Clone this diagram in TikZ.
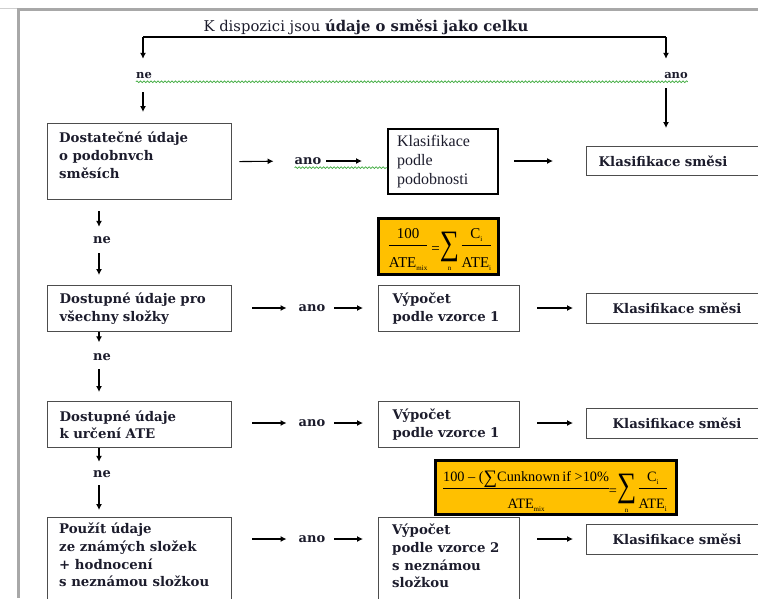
\documentclass[tikz,border=0pt]{standalone}
\usepackage{fontspec}
\setmainfont{Liberation Serif}
\newfontfamily\bodyserif{DejaVu Serif}
\usetikzlibrary{arrows.meta,decorations.pathmorphing}

\definecolor{ink}{HTML}{1C1C2C}
\definecolor{edge}{HTML}{4D4D4D}
\definecolor{framegray}{HTML}{A8A8A8}
\definecolor{spell}{HTML}{3DAA3D}
\definecolor{formulafill}{HTML}{FFC000}

\newcommand\cbfont{\bodyserif\fontsize{13.3}{17.6}\selectfont\bfseries}
\newcommand\headfont{\bodyserif\fontsize{14.8}{17}\selectfont}
\newcommand\trfont{\fontsize{16}{19.2}\selectfont}
\newcommand\lblfont{\bodyserif\fontsize{13}{16}\selectfont\bfseries}
\newcommand\toplblfont{\bodyserif\fontsize{11.5}{14}\selectfont\bfseries}
\newcommand\eqfont{\fontsize{15}{18}\selectfont}
\newcommand\eqsmallfont{\fontsize{14.3}{18}\selectfont}
% small index after a name
\newcommand\idx[1]{\raisebox{-3pt}{\fontsize{7}{7}\selectfont #1}}
% built-up fraction: numerator over a rule over denominator
\newcommand\frc[3]{\begin{tabular}{@{}c@{}}#2\\[1pt]\hline\rule{0pt}{#1}#3\end{tabular}}
% large summation sign with its index below
\newcommand\bigsum{\raisebox{-5pt}{\begin{tabular}{@{}c@{}}\scalebox{0.9}[1.14]{\fontsize{30}{30}\selectfont ∑}\\[-4pt]{\fontsize{7}{7}\selectfont n}\end{tabular}}}

\tikzset{
  box/.style={draw=edge, line width=1.3pt, anchor=north west, inner sep=0pt,
    text=ink, font=\cbfont, align=left},
  heavybox/.style={draw=black, line width=2.2pt, anchor=north west, inner sep=0pt,
    text=ink, font=\trfont, align=left},
  formula/.style={draw=black, line width=3pt, fill=formulafill, inner sep=0pt},
  eq/.style={text=black, inner sep=0pt, anchor=base},
  txt/.style={text=ink, font=\cbfont, align=left, anchor=north west, inner sep=0pt},
  lbl/.style={text=ink, font=\lblfont, inner sep=0pt, text height=7pt, text depth=0pt},
  toplbl/.style={lbl, font=\toplblfont},
  arr/.style={-{Latex[length=6pt,width=6pt]}, line width=1.1pt, draw=black},
  plain/.style={line width=1.1pt, draw=black},
  wavy/.style={draw=spell, line width=0.7pt, decorate,
    decoration={snake, amplitude=0.9pt, segment length=3.5pt}},
}

\begin{document}
\begin{tikzpicture}[x=1pt,y=-1pt]
\useasboundingbox (0,0) rectangle (758,598);
\clip (0,0) rectangle (758,598);

% page frame
\draw[framegray!55, line width=1pt] (0,8.5) -- (18,8.5);
\draw[framegray, line width=2.5pt] (17,9.3) -- (758,9.3);
\draw[framegray, line width=2.5pt] (18.5,9) -- (18.5,598);

% heading and first branch
\node[text=ink, font=\headfont, inner sep=0pt, anchor=base] (title) at (366,31)
  {K dispozici jsou \textbf{údaje o směsi jako celku}};
\coordinate (tl) at (143,37);
\coordinate (tr) at (666,37);
\node[toplbl] (ne0) at (144,75) {ne};
\node[toplbl] (ano0) at (676,75) {ano};
\draw[plain] (tl) -- (tr);
\draw[arr, shorten >=12.5pt] (tl) -- (tl |- ne0.north);
\draw[arr, shorten >=12.5pt] (tr) -- (tr |- ano0.north);
\draw[wavy] ([yshift=-3pt]ne0.south west) -- ([yshift=-3pt]ano0.south east);

% left column: decision boxes
\node[box, minimum width=184pt, minimum height=76pt] (b1) at (47,123) {};
\node[txt] (t1) at ([shift={(12,9)}]b1.north west) {Dostatečné údaje\\o podobnvch\\směsích};
\node[box, minimum width=184pt, minimum height=46pt, text width=160pt, inner xsep=12pt]
  (b2) at (47,285) {Dostupné údaje pro\\všechny složky};
\node[box, minimum width=184pt, minimum height=46pt, text width=160pt, inner xsep=12pt]
  (b3) at (47,401) {Dostupné údaje\\k určení ATE};
\node[box, minimum width=184pt, minimum height=120pt] (b4) at (47,517) {};
\node[txt] (t4) at ([shift={(12,6)}]b4.north west)
  {Použít údaje\\ze známých složek\\+ hodnocení\\s neznámou složkou};

% middle column
\node[heavybox, minimum width=110pt, minimum height=65pt, text width=92pt, inner xsep=9pt]
  (kp) at (387,128) {Klasifikace\\podle\\podobnosti};
\node[box, minimum width=141pt, minimum height=46pt, text width=113pt, inner xsep=14pt]
  (v1) at (378,285) {Výpočet\\podle vzorce 1};
\node[box, minimum width=141pt, minimum height=46pt, text width=113pt, inner xsep=14pt]
  (v2) at (378,401) {Výpočet\\podle vzorce 1};
\node[box, minimum width=141pt, minimum height=120pt] (v3) at (378,517) {};
\node[txt] (t5) at ([shift={(14,7)}]v3.north west)
  {Výpočet\\podle vzorce 2\\s neznámou\\složkou};

% right column: results
\node[box, minimum width=220pt, minimum height=29pt, text width=196pt, inner xsep=12pt]
  (ks1) at (586,146) {Klasifikace směsi};
\node[box, minimum width=220pt, minimum height=30pt, text width=168pt, inner xsep=26pt]
  (ks2) at (586,293) {Klasifikace směsi};
\node[box, minimum width=220pt, minimum height=30pt, text width=168pt, inner xsep=26pt]
  (ks3) at (586,408) {Klasifikace směsi};
\node[box, minimum width=220pt, minimum height=30pt, text width=168pt, inner xsep=26pt]
  (ks4) at (586,524) {Klasifikace směsi};

% formulas
\node[formula, minimum width=120pt, minimum height=56pt] (f1) at (438,246) {};
\node[eq, font=\eqfont] (e1) at (440,253)
  {\frc{22pt}{100}{ATE\idx{mix}}\;=\bigsum\,\frc{22pt}{C\idx{i}}{ATE\idx{i}}};
\node[formula, minimum width=241pt, minimum height=54pt] (f2) at (556,487) {};
\node[eq, font=\eqsmallfont] (e2) at (555,495)
  {\frc{20pt}{100 – (\raisebox{-2pt}{\fontsize{19}{19}\selectfont ∑}Cunknown\,if >10\%}{ATE\idx{mix}}=\bigsum\,\frc{20pt}{C\idx{i}}{ATE\idx{i}}};

% answer labels
\node[lbl] (ano1) at (308,161) {ano};
\node[lbl] (ano2) at (312,308) {ano};
\node[lbl] (ano3) at (312,423) {ano};
\node[lbl] (ano4) at (312,539) {ano};
\node[lbl] (ne1) at (102,240) {ne};
\node[lbl] (ne2) at (102,357) {ne};
\node[lbl] (ne3) at (102,474) {ne};

% vertical flow
\draw[arr, shorten <=13.5pt, shorten >=11pt] (tl |- ne0.south) -- (tl |- b1.north);
\draw[arr, shorten <=9.5pt, shorten >=18pt] (tr |- ano0.south) -- (tr |- ks1.north);
\draw[arr, shorten <=11pt, shorten >=9.5pt] (b1.south -| 99,0) -- (99,0 |- ne1.north);
\draw[arr, shorten <=9.5pt, shorten >=10pt] (99,0 |- ne1.south) -- (b2.north -| 99,0);
\draw[arr, shorten >=11pt] (b2.south -| 99,0) -- (99,0 |- ne2.north);
\draw[arr, shorten <=8.5pt, shorten >=9pt] (99,0 |- ne2.south) -- (b3.north -| 99,0);
\draw[arr, shorten >=8.5pt] (b3.south -| 99,0) -- (99,0 |- ne3.north);
\draw[arr, shorten <=7.5pt, shorten >=7pt] (99,0 |- ne3.south) -- (b4.north -| 99,0);

% horizontal flow, row 1
\draw[arr, shorten <=7pt, shorten >=21pt] (b1.east) -- (ano1.west);
\draw[arr, shorten <=5pt, shorten >=25pt] (ano1.east) -- (kp.west |- ano1);
\draw[wavy] ([yshift=-3pt]ano1.south west) -- ([yshift=-3pt]ano1.south west -| kp.west);
\draw[arr, shorten <=15pt, shorten >=33pt] (kp.east |- ano1) -- (ks1.west |- ano1);

% rows 2 to 4
\foreach \b/\a/\v/\k in {b2/ano2/v1/ks2, b3/ano3/v2/ks3, b4/ano4/v3/ks4}{
  \draw[arr, shorten <=20pt, shorten >=12pt] (\b.east |- \a) -- (\a.west);
  \draw[arr, shorten <=9pt, shorten >=15pt] (\a.east) -- (\v.west |- \a);
  \draw[arr, shorten <=17pt, shorten >=13pt] (\v.east |- \a) -- (\k.west |- \a);
}
\end{tikzpicture}
\end{document}
